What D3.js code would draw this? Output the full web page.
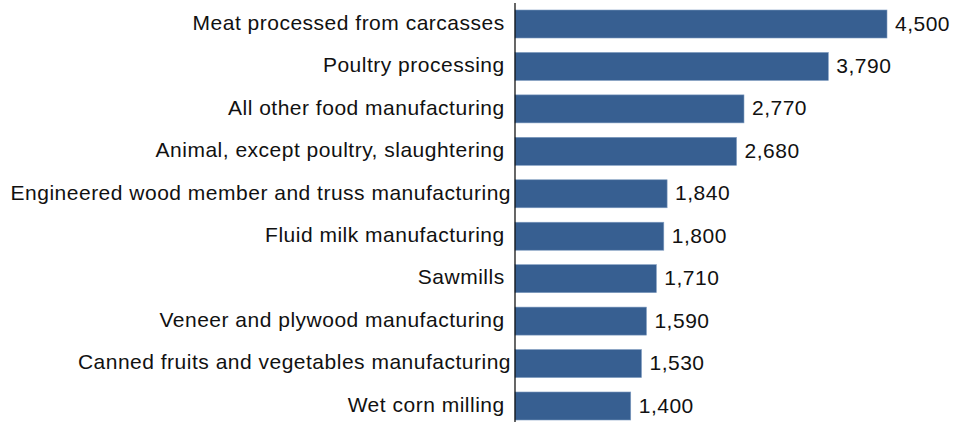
<!DOCTYPE html>
<html>
<head>
<meta charset="utf-8">
<script src="https://cdn.jsdelivr.net/npm/d3@7"></script>
<style>
  body { margin: 0; background: #fff; }
  text { font-family: "Liberation Sans", Arial, sans-serif; white-space: pre; letter-spacing: 0.5px; }
</style>
</head>
<body>
<div id="chart"></div>
<script>
const categories = [
  "Meat processed from carcasses ",
  "Poultry processing ",
  "All other food manufacturing ",
  "Animal, except poultry, slaughtering ",
  "Engineered wood member and truss manufacturing",
  "Fluid milk manufacturing ",
  "Sawmills ",
  "Veneer and plywood manufacturing ",
  "Canned fruits and vegetables manufacturing",
  "Wet corn milling "
];
const values = [4500, 3790, 2770, 2680, 1840, 1800, 1710, 1590, 1530, 1400];

const width = 964, height = 422;
const left = 515;
const fontSize = 21;

const svg = d3.select('#chart').append('svg').attr('width', width).attr('height', height);

const x = d3.scaleLinear().domain([0, 4500]).range([left, 887]);
const y = d3.scaleBand().domain(categories).range([2.78, 427.22]).paddingInner(0.34).paddingOuter(0.17);

svg.selectAll('rect.bar').data(values).enter().append('rect')
  .attr('class', 'bar')
  .attr('x', x(0))
  .attr('y', (d, i) => y(categories[i]))
  .attr('width', d => x(d) - x(0))
  .attr('height', y.bandwidth())
  .attr('fill', '#375f91')
  .attr('stroke', '#7f9cc0')
  .attr('stroke-width', 0.6);

svg.selectAll('text.val').data(values).enter().append('text')
  .attr('class', 'val')
  .attr('x', d => x(d) + 8)
  .attr('y', (d, i) => y(categories[i]) + y.bandwidth() / 2 + 6.6)
  .attr('font-size', fontSize)
  .attr('fill', '#111')
  .text(d => d3.format(',')(d));

svg.selectAll('text.cat').data(categories).enter().append('text')
  .attr('class', 'cat')
  .attr('x', left - 4)
  .attr('y', d => y(d) + y.bandwidth() / 2 + 5.8)
  .attr('text-anchor', 'end')
  .attr('font-size', fontSize)
  .attr('fill', '#111')
  .text(d => d);

svg.append('line')
  .attr('x1', left).attr('x2', left)
  .attr('y1', 3).attr('y2', height)
  .attr('stroke', '#000').attr('stroke-width', 1.2);
</script>
</body>
</html>
